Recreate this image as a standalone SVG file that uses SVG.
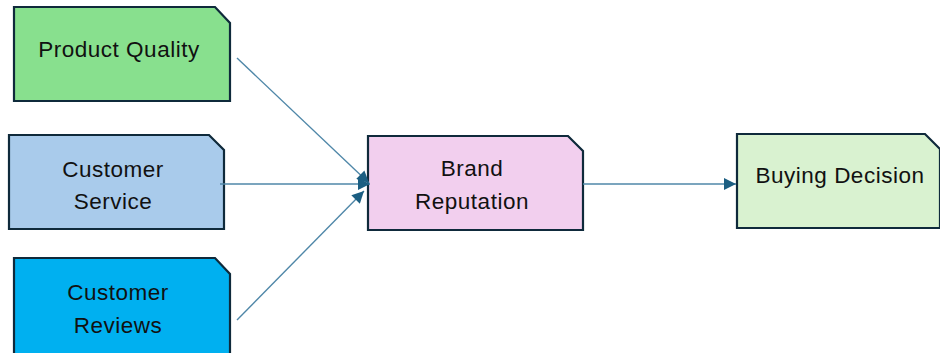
<svg xmlns="http://www.w3.org/2000/svg" width="940" height="353" viewBox="0 0 940 353">
<defs>
<style>
.box{stroke:#0f2a3b;stroke-width:2.2;}
.lbl{font-family:"Liberation Sans",Arial,sans-serif;font-size:22.5px;letter-spacing:0.5px;fill:#111;text-anchor:middle;}
.con{stroke:#4f87a8;stroke-width:1.4;fill:none;marker-end:url(#arr);}
</style>
<marker id="arr" viewBox="0 0 10 10" refX="10" refY="5" markerWidth="13" markerHeight="12" markerUnits="userSpaceOnUse" orient="auto">
<path d="M0,0 L10,5 L0,10 Z" fill="#1b5e82"/>
</marker>
</defs>
<rect width="940" height="353" fill="#ffffff"/>
<g id="product-quality">
<path class="box" fill="#88e08e" d="M14,7 H215 L230,23 V101 H14 Z"/>
<text class="lbl" x="119" y="57">Product Quality</text>
</g>
<g id="customer-service">
<path class="box" fill="#a9cbeb" d="M9,135 H209 L224,150 V229 H9 Z"/>
<text class="lbl" x="113" y="177">Customer</text>
<text class="lbl" x="113" y="209">Service</text>
</g>
<g id="customer-reviews">
<path class="box" fill="#00b0f0" d="M14,258 H215 L230,274 V360 H14 Z"/>
<text class="lbl" x="118" y="300">Customer</text>
<text class="lbl" x="118" y="333">Reviews</text>
</g>
<g id="brand-reputation">
<path class="box" fill="#f2cfee" d="M368,136 H568 L583,151 V230 H368 Z"/>
<text class="lbl" x="472" y="176">Brand</text>
<text class="lbl" x="472" y="209">Reputation</text>
</g>
<g id="buying-decision">
<path class="box" fill="#d9f2d0" d="M737,134 H925 L940,149 V228 H737 Z"/>
<text class="lbl" x="840" y="183">Buying Decision</text>
</g>
<g id="connectors">
<line class="con" x1="237" y1="58" x2="369" y2="183"/>
<line class="con" x1="220" y1="184" x2="370" y2="184"/>
<line class="con" x1="237" y1="320" x2="364" y2="191"/>
<line class="con" x1="583" y1="184" x2="736" y2="184"/>
</g>
</svg>
